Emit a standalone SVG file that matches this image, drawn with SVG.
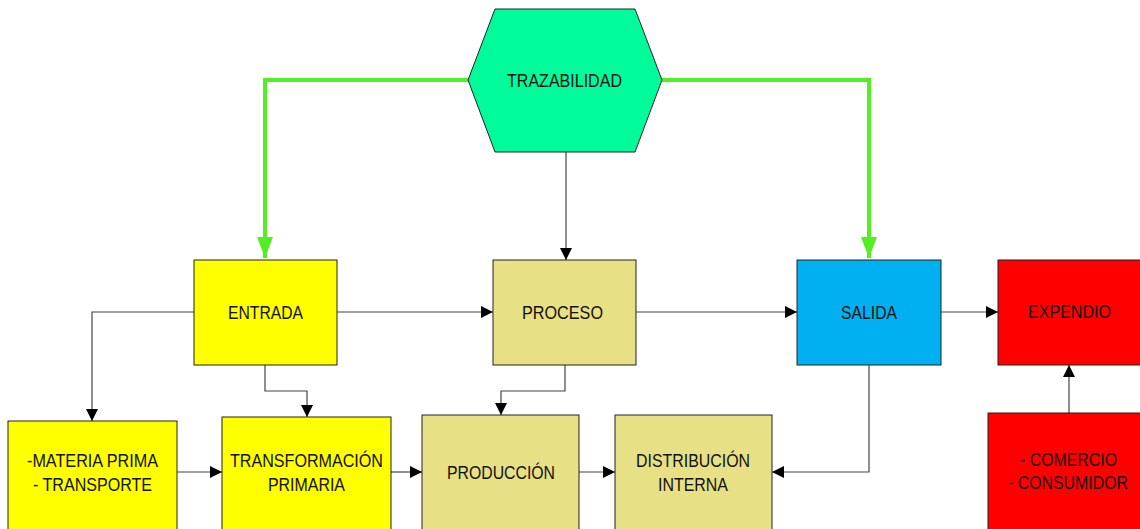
<svg xmlns="http://www.w3.org/2000/svg" width="1140" height="529" viewBox="0 0 1140 529">
<style>
.box{stroke:#222;stroke-width:1}
.lbl{font-family:"Liberation Sans",Arial,sans-serif;font-size:19px;fill:#111;text-anchor:middle}
.con{fill:none;stroke:#444;stroke-width:1.2}
.grn{fill:none;stroke:#55ee22;stroke-width:4}
</style>
<defs>
<marker id="ah" markerUnits="userSpaceOnUse" markerWidth="13" markerHeight="12" refX="12" refY="6" orient="auto"><path d="M0,0 L12,6 L0,12 Z" fill="#000"/></marker>
<marker id="gh" markerUnits="userSpaceOnUse" markerWidth="22" markerHeight="16" refX="21" refY="8" orient="auto"><path d="M0,0 L21,8 L0,16 Z" fill="#55ee22"/></marker>
</defs>
<g id="connectors">
<path class="grn" d="M468,80 H265 V258" marker-end="url(#gh)"/>
<path class="grn" d="M662,80 H869 V258" marker-end="url(#gh)"/>
<path class="con" d="M566,152 V260" marker-end="url(#ah)"/>
<path class="con" d="M337,312 H493" marker-end="url(#ah)"/>
<path class="con" d="M636,312 H797" marker-end="url(#ah)"/>
<path class="con" d="M941,312 H998" marker-end="url(#ah)"/>
<path class="con" d="M194,312 H92 V421" marker-end="url(#ah)"/>
<path class="con" d="M265,365 V391 H307 V417" marker-end="url(#ah)"/>
<path class="con" d="M565,365 V391 H501 V415" marker-end="url(#ah)"/>
<path class="con" d="M869,365 V472 H772" marker-end="url(#ah)"/>
<path class="con" d="M177,472 H222" marker-end="url(#ah)"/>
<path class="con" d="M391,472 H422" marker-end="url(#ah)"/>
<path class="con" d="M579,472 H615" marker-end="url(#ah)"/>
<path class="con" d="M1069,413 V365" marker-end="url(#ah)"/>
</g>
<g id="trazabilidad">
<polygon class="box" points="495,9 635,9 662,80 635,152 495,152 468,80" fill="#00fc9a"/>
<text class="lbl" x="564.5" y="87" textLength="115" lengthAdjust="spacingAndGlyphs">TRAZABILIDAD</text>
</g>
<g id="entrada">
<rect class="box" x="194" y="260" width="143" height="105" fill="#ffff00"/>
<text class="lbl" x="265.5" y="319" textLength="75" lengthAdjust="spacingAndGlyphs">ENTRADA</text>
</g>
<g id="proceso">
<rect class="box" x="493" y="260" width="143" height="105" fill="#e7e084"/>
<text class="lbl" x="562.5" y="319" textLength="81" lengthAdjust="spacingAndGlyphs">PROCESO</text>
</g>
<g id="salida">
<rect class="box" x="797" y="260" width="144" height="105" fill="#00b0f0"/>
<text class="lbl" x="869" y="319" textLength="56" lengthAdjust="spacingAndGlyphs">SALIDA</text>
</g>
<g id="expendio">
<rect class="box" x="998" y="260" width="144" height="105" fill="#ff0000"/>
<text class="lbl" x="1069.5" y="318" textLength="83" lengthAdjust="spacingAndGlyphs">EXPENDIO</text>
</g>
<g id="materia">
<rect class="box" x="8" y="421" width="169" height="112" fill="#ffff00"/>
<text class="lbl" x="92.5" y="467" textLength="131" lengthAdjust="spacingAndGlyphs">-MATERIA PRIMA</text>
<text class="lbl" x="92.5" y="491" textLength="119" lengthAdjust="spacingAndGlyphs">- TRANSPORTE</text>
</g>
<g id="transformacion">
<rect class="box" x="222" y="417" width="169" height="116" fill="#ffff00"/>
<text class="lbl" x="306.5" y="467" textLength="153" lengthAdjust="spacingAndGlyphs">TRANSFORMACIÓN</text>
<text class="lbl" x="306.5" y="491" textLength="77" lengthAdjust="spacingAndGlyphs">PRIMARIA</text>
</g>
<g id="produccion">
<rect class="box" x="422" y="415" width="157" height="118" fill="#e7e084"/>
<text class="lbl" x="501" y="479" textLength="108" lengthAdjust="spacingAndGlyphs">PRODUCCIÓN</text>
</g>
<g id="distribucion">
<rect class="box" x="615" y="415" width="157" height="118" fill="#e7e084"/>
<text class="lbl" x="693" y="467" textLength="114" lengthAdjust="spacingAndGlyphs">DISTRIBUCIÓN</text>
<text class="lbl" x="693" y="491" textLength="70" lengthAdjust="spacingAndGlyphs">INTERNA</text>
</g>
<g id="comercio">
<rect class="box" x="988" y="413" width="154" height="120" fill="#ff0000"/>
<text class="lbl" x="1068.5" y="466" textLength="97" lengthAdjust="spacingAndGlyphs">- COMERCIO</text>
<text class="lbl" x="1068" y="489" textLength="120" lengthAdjust="spacingAndGlyphs">- CONSUMIDOR</text>
</g>
</svg>
